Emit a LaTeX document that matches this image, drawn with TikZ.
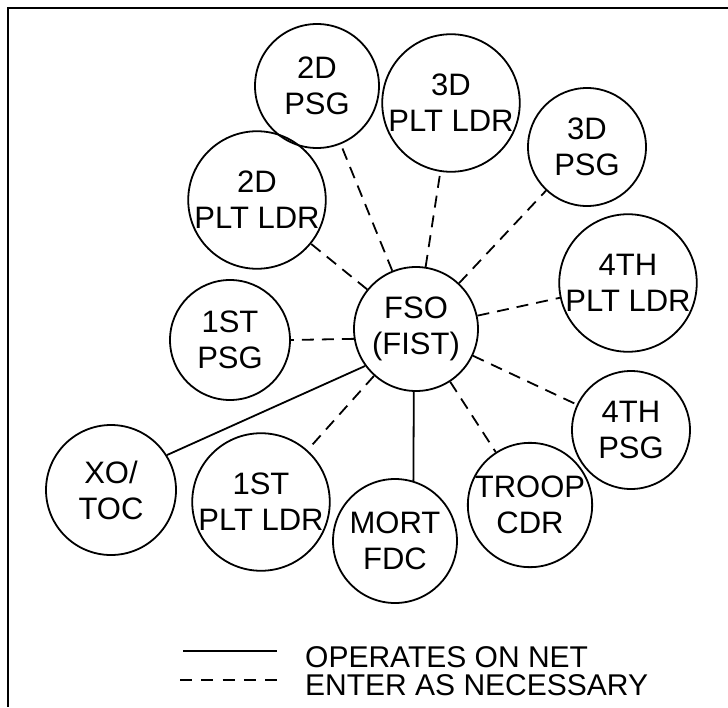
\documentclass[tikz,border=0pt]{standalone}
\usepackage{fontspec}
\setmainfont{Liberation Sans}
\tikzset{
  stn/.style   = {circle, draw=black, line width=1.8pt, minimum size=#1, inner sep=0pt,
                  align=center, font=\fontsize{31}{36}\selectfont},
  stn/.default = 124pt,
  net/.style   = {draw=black, line width=1.8pt},
  nec/.style   = {net, dash pattern=on 12pt off 8pt},
  leg/.style   = {anchor=base west, inner sep=0pt, font=\fontsize{30}{25}\selectfont},
  frm/.style   = {draw=black, line width=2.5pt},
}
\begin{document}
\begin{tikzpicture}[x=1pt,y=-1pt]
  \useasboundingbox (0,0) rectangle (728,707);

  % frame
  \coordinate (tl) at (8,8);
  \coordinate (tr) at (728,8);
  \coordinate (bl) at (8,707);
  \draw[frm] (tr) -- (tl) -- (bl);

  % stations
  \node[stn] (fso) at (416,329) {FSO\\(FIST)};
  \node[stn] (psg2) at (317,86) {2D\\PSG};
  \node[stn] (ldr3) at (451,103) {3D\\PLT LDR};
  \node[stn=118pt] (psg3) at (587,147) {3D\\PSG};
  \node[stn=122pt] (ldr2) at (257,200) {2D\\PLT LDR};
  \node[stn] (ldr4) at (628,283) {4TH\\PLT LDR};
  \node[stn=120pt] (psg1) at (230,340) {1ST\\PSG};
  \node[stn=118pt] (psg4) at (631,430) {4TH\\PSG};
  \node[stn=130pt] (xo) at (111,490) {XO/\\TOC};
  \node[stn=134pt] (ldr1) at (261,502) {1ST\\PLT LDR};
  \node[stn] (mort) at (395,541) {MORT\\FDC};
  \node[stn=120pt] (troop) at (530,505) {TROOP\\CDR};

  % nets
  \draw[net] (fso.216) -- (xo.32);
  \draw[net] (fso.-92) -- (mort.73);
  \draw[nec] (fso) -- (psg2);
  \draw[nec] (fso) -- (ldr3);
  \draw[nec] (fso) -- (psg3);
  \draw[nec] (fso) -- (ldr2);
  \draw[nec] (fso) -- (ldr4);
  \draw[nec] (fso.189) -- (psg1.east);
  \draw[nec] (fso) -- (psg4);
  \draw[nec] (fso) -- (ldr1);
  \draw[nec] (fso) -- (troop);

  % legend
  \coordinate (l1a) at (183,651);
  \coordinate (l1b) at (277,651);
  \coordinate (l2a) at (180,680);
  \coordinate (l2b) at (277,680);
  \draw[net] (l1a) -- (l1b);
  \draw[net, dash pattern=on 12pt off 9.25pt] (l2a) -- (l2b);
  \node[leg] (t1) at (305,667) {OPERATES ON NET};
  \node[leg] (t2) at (305,695) {ENTER AS NECESSARY};
\end{tikzpicture}
\end{document}
